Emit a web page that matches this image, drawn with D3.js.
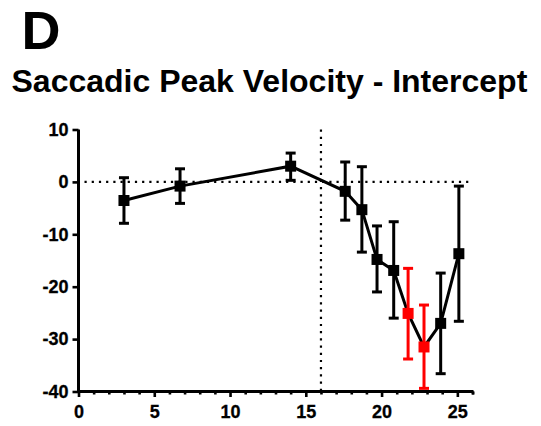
<!DOCTYPE html>
<html>
<head>
<meta charset="utf-8">
<script src="https://cdn.jsdelivr.net/npm/d3@7"></script>
<style>
  html, body { margin: 0; padding: 0; background: #fff; }
  svg { display: block; font-family: "Liberation Sans", Arial, sans-serif; }
</style>
</head>
<body>
<svg id="chart" width="541" height="426"></svg>
<script>
// ---- data ----
const xValues   = [3.0, 6.7, 14.0, 17.6, 18.7, 19.7, 20.8, 21.75, 22.8, 23.9, 25.1];
const yValues   = [-3.55, -0.8, 3.0, -1.8, -5.3, -14.8, -16.9, -25.1, -31.5, -27.0, -13.7];
const errUpper  = [0.8, 2.5, 5.5, 3.8, 2.9, -8.4, -7.6, -16.5, -23.5, -17.4, -0.8];
const errLower  = [-7.9, -4.1, 0.3, -7.3, -13.4, -21.0, -26.0, -33.8, -39.4, -36.6, -26.6];
const highlight = [false, false, false, false, false, false, false, true, true, false, false];
const xTicks = [0, 5, 10, 15, 20, 25];
const yTicks = [10, 0, -10, -20, -30, -40];
const refX = 16;
const refY = 0;
const panelLabel = "D";
const title = "Saccadic Peak Velocity - Intercept";

// ---- layout ----
const svg = d3.select("#chart");
const x = d3.scaleLinear().domain([0, 26]).range([78.5, 472.5]);
const y = d3.scaleLinear().domain([-40, 10]).range([391.5, 129.5]);

svg.append("text").attr("x", 21.5).attr("y", 49)
  .attr("font-size", 54).attr("font-weight", "bold").text(panelLabel);
svg.append("text").attr("x", 11.5).attr("y", 91.5)
  .attr("font-size", 32).attr("font-weight", "bold").text(title);

// reference dotted lines
svg.append("line")
  .attr("x1", x(0) + 6).attr("x2", x(26)).attr("y1", y(refY)).attr("y2", y(refY))
  .attr("stroke", "#000").attr("stroke-width", 2.2).attr("stroke-dasharray", "2.2,5");
svg.append("line")
  .attr("x1", x(refX)).attr("x2", x(refX)).attr("y1", y(10)).attr("y2", y(-40))
  .attr("stroke", "#000").attr("stroke-width", 2.2).attr("stroke-dasharray", "2.2,5");

// axes
const yAxis = d3.axisLeft(y).tickValues(yTicks).tickSize(6).tickPadding(4).tickFormat(d => String(d));
const gy = svg.append("g").attr("transform", `translate(${x(0)},0)`).call(yAxis);
const minorX = d3.range(0, 27, 1);
const gxMinor = svg.append("g").attr("transform", `translate(0,${y(-40)})`)
  .call(d3.axisBottom(x).tickValues(minorX.filter(v => v % 5 !== 0)).tickSize(3).tickFormat(""));
gxMinor.select(".domain").remove();
const xAxis = d3.axisBottom(x).tickValues(xTicks.concat([26])).tickSize(5.5).tickPadding(8)
  .tickFormat(d => xTicks.includes(d) ? String(d) : "");
const gx = svg.append("g").attr("transform", `translate(0,${y(-40)})`).call(xAxis);
gx.selectAll(".tick").filter(d => d === 26).select("line").attr("y2", 3);

[gy, gx, gxMinor].forEach(g => {
  g.selectAll(".domain").attr("stroke", "#000").attr("stroke-width", 3);
  g.selectAll(".tick line").attr("stroke", "#000").attr("stroke-width", 2.6);
  g.selectAll(".tick text").attr("font-size", 18).attr("font-weight", "bold")
    .attr("font-family", "'Liberation Sans', Arial, sans-serif").attr("fill", "#000")
    .attr("stroke", "#000").attr("stroke-width", 0.3);
});
gy.select(".domain").attr("d", `M0,${y(10)}V${y(-40)}`);
gx.select(".domain").attr("d", `M${x(0) - 1.5},0H${x(26) + 1}`);

const pts = xValues.map((v, i) => ({x: v, y: yValues[i], hi: errUpper[i], lo: errLower[i], red: highlight[i]}));

// connecting line
svg.append("path").datum(pts)
  .attr("d", d3.line().x(d => x(d.x)).y(d => y(d.y)))
  .attr("fill", "none").attr("stroke", "#000").attr("stroke-width", 3);

// error bars
const eb = svg.append("g").selectAll("g").data(pts).join("g")
  .attr("stroke", d => d.red ? "#ff0000" : "#000").attr("stroke-width", 3);
eb.append("line").attr("x1", d => x(d.x)).attr("x2", d => x(d.x))
  .attr("y1", d => y(d.hi)).attr("y2", d => y(d.lo));
eb.append("line").attr("x1", d => x(d.x) - 5).attr("x2", d => x(d.x) + 5)
  .attr("y1", d => y(d.hi)).attr("y2", d => y(d.hi));
eb.append("line").attr("x1", d => x(d.x) - 5).attr("x2", d => x(d.x) + 5)
  .attr("y1", d => y(d.lo)).attr("y2", d => y(d.lo));

// markers
const s = 11;
svg.append("g").selectAll("rect").data(pts).join("rect")
  .attr("x", d => x(d.x) - s / 2).attr("y", d => y(d.y) - s / 2)
  .attr("width", s).attr("height", s)
  .attr("fill", d => d.red ? "#ff0000" : "#000");
</script>
</body>
</html>
